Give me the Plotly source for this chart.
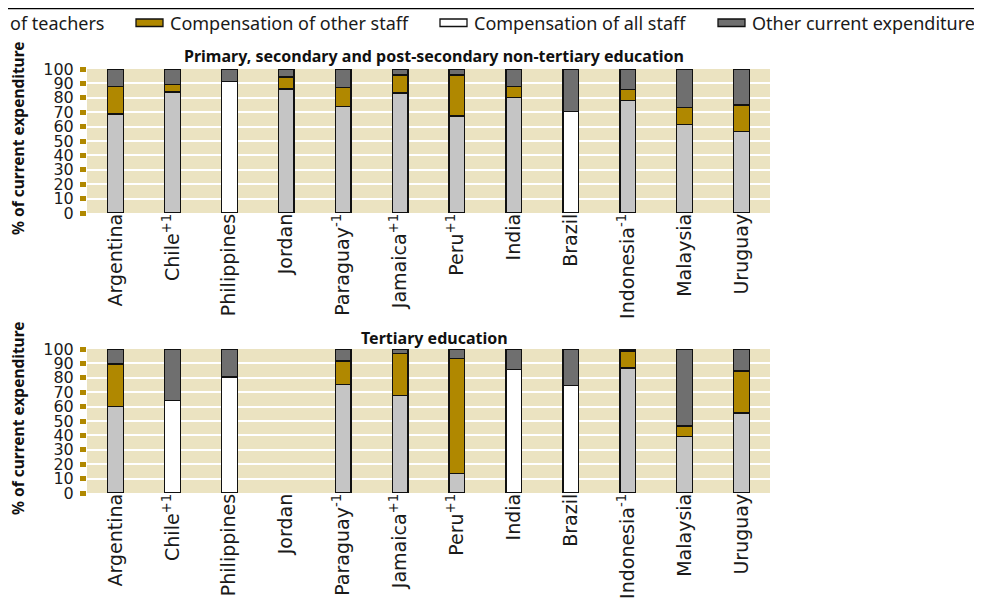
import plotly.graph_objects as go
from plotly.subplots import make_subplots

countries = ["Argentina", "Chile<sup>+1</sup>", "Philippines", "Jordan", "Paraguay<sup>-1</sup>",
             "Jamaica<sup>+1</sup>", "Peru<sup>+1</sup>", "India", "Brazil",
             "Indonesia<sup>-1</sup>", "Malaysia", "Uruguay"]

# Primary, secondary and post-secondary non-tertiary (% of current expenditure)
teachers_p = [68.7, 84.0, None, 86.1, 74.0, 83.3, 67.3, 80.0, None, 78.0, 61.7, 56.6]
other_staff_p = [19.2, 5.3, None, 8.3, 13.2, 12.5, 28.5, 7.9, None, 7.8, 11.4, 18.3]
all_staff_p = [None, None, 91.4, None, None, None, None, None, 70.5, None, None, None]
other_current_p = [12.1, 10.7, 8.6, 5.6, 12.8, 4.2, 4.2, 12.1, 29.5, 14.2, 26.9, 25.1]

# Tertiary
teachers_t = [60.3, None, None, None, 75.4, 67.5, 13.7, None, None, 86.8, 39.4, 55.5]
other_staff_t = [29.3, None, None, None, 16.2, 29.5, 79.8, None, None, 11.8, 7.2, 29.2]
all_staff_t = [None, 64.3, 80.5, None, None, None, None, 85.6, 74.5, None, None, None]
other_current_t = [10.4, 35.7, 19.5, None, 8.4, 3.0, 6.5, 14.4, 25.5, 1.4, 53.4, 15.3]

series_names = ["Compensation of teachers", "Compensation of other staff",
                "Compensation of all staff", "Other current expenditure"]
colors = ["#c5c5c5", "#b08800", "#ffffff", "#6f6f6f"]

# the page body adds an 8px margin, so the figure is shifted by that much
OFF = 8
W, H = 982, 602
plot_left, plot_right, plot_top, plot_bottom = 87, 770, 69, 493   # window pixels
L, T = plot_left - OFF, plot_top - OFF
R, B = W - (plot_right - OFF), H - (plot_bottom - OFF)
pw, ph = plot_right - plot_left, plot_bottom - plot_top


def px(x):
    return (x - plot_left) / pw


def py(y):
    return (plot_bottom - y) / ph


fig = make_subplots(rows=2, cols=1, vertical_spacing=136 / ph)

panels = [
    (1, [teachers_p, other_staff_p, all_staff_p, other_current_p]),
    (2, [teachers_t, other_staff_t, all_staff_t, other_current_t]),
]
for row, data in panels:
    for name, vals, col in zip(series_names, data, colors):
        fig.add_trace(go.Bar(
            x=countries, y=vals, name=name, showlegend=False,
            marker=dict(color=col, line=dict(color="#111111", width=1.3)),
        ), row=row, col=1)

fig.update_layout(
    width=W, height=H,
    margin=dict(l=L, r=R, t=T, b=B, autoexpand=False),
    barmode="stack", bargap=0.724,
    plot_bgcolor="#ebe3c1", paper_bgcolor="white",
    font=dict(family="DejaVu Sans", color="#1a1a1a"),
)
fig.update_xaxes(tickangle=-90, tickfont=dict(size=19, family="DejaVu Sans"),
                 showgrid=False, showline=False, ticks="", ticklabelstandoff=-4)
fig.update_yaxes(range=[0, 100], dtick=10, tickfont=dict(size=16, family="DejaVu Sans"),
                 gridcolor="white", gridwidth=1.6, zeroline=False, showline=False,
                 ticks="outside", ticklen=6, tickwidth=5, tickcolor="#b08800",
                 ticklabelstandoff=3)

# subplot titles
for txt, ypix in [("Primary, secondary and post-secondary non-tertiary education", 56),
                  ("Tertiary education", 338)]:
    fig.add_annotation(text="<b>" + txt + "</b>", xref="paper", yref="paper",
                       x=px(434), y=py(ypix), xanchor="center", yanchor="middle",
                       showarrow=False,
                       font=dict(family="Noto Sans", size=16, color="#111111"))

# y-axis titles
for ypix in [138, 418]:
    fig.add_annotation(text="<b>% of current expenditure</b>", xref="paper", yref="paper",
                       x=px(18), y=py(ypix), xanchor="center", yanchor="middle",
                       textangle=-90, showarrow=False,
                       font=dict(family="Noto Sans", size=15.5, color="#111111"))

# rule on top (as high as the figure allows)
fig.add_shape(type="line", xref="paper", yref="paper", x0=px(-5), x1=px(W + 20),
              y0=py(OFF + 0.7), y1=py(OFF + 0.7), line=dict(color="black", width=1.2))

# legend drawn by hand (first entry is cut at the left edge)
legend_x = [-150, 136, 440, 718]
for i, (name, col, x0) in enumerate(zip(series_names, colors, legend_x)):
    fig.add_shape(type="rect", xref="paper", yref="paper",
                  x0=px(x0), x1=px(x0 + 27), y0=py(26.5), y1=py(19),
                  fillcolor=col, line=dict(color="#111111", width=1.3))
    if i == 0:
        tx, anchor = 106, "right"
    else:
        tx, anchor = x0 + 32, "left"
    fig.add_annotation(text=name, xref="paper", yref="paper", x=px(tx), y=py(23),
                       xanchor=anchor, yanchor="middle", showarrow=False,
                       font=dict(family="Noto Sans", size=18, color="#1a1a1a"))

fig.write_html("out.html")
